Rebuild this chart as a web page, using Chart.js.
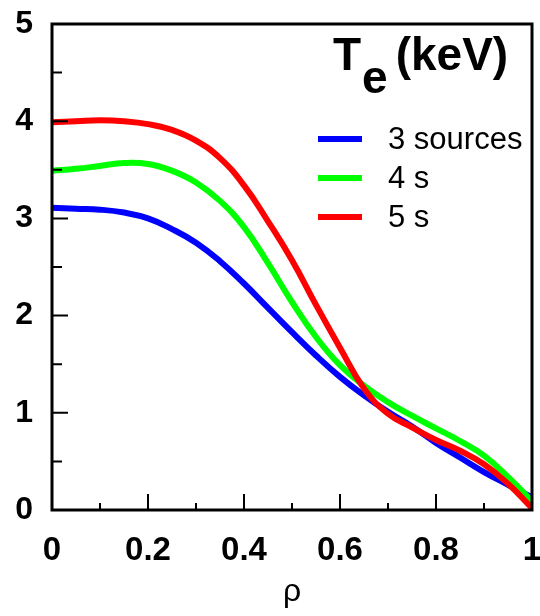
<!DOCTYPE html>
<html>
<head>
<meta charset="utf-8">
<script src="https://cdn.jsdelivr.net/npm/chart.js@4.4.1/dist/chart.umd.min.js"></script>
<style>
  html, body { margin: 0; padding: 0; background: #fff; }
</style>
</head>
<body>
<canvas id="chartTe" width="540" height="616"></canvas>
<script>
// normalised radius and electron temperature profiles (keV)
const rho = [0, 0.05, 0.1, 0.15, 0.2, 0.25, 0.3, 0.35, 0.4, 0.45, 0.5,
             0.55, 0.6, 0.65, 0.7, 0.75, 0.8, 0.85, 0.9, 0.95, 1.0];
const te3sources = [3.11, 3.10, 3.09, 3.06, 3.00, 2.89, 2.75, 2.56, 2.33, 2.08, 1.83,
                    1.59, 1.37, 1.18, 1.01, 0.86, 0.69, 0.54, 0.39, 0.26, 0.13];
const te4s = [3.49, 3.51, 3.54, 3.57, 3.56, 3.49, 3.37, 3.18, 2.91, 2.54, 2.14,
              1.78, 1.49, 1.28, 1.11, 0.97, 0.84, 0.71, 0.56, 0.34, 0.09];
const te5s = [3.99, 4.00, 4.01, 4.00, 3.97, 3.91, 3.80, 3.62, 3.34, 2.97, 2.57,
              2.11, 1.67, 1.25, 0.99, 0.85, 0.72, 0.61, 0.47, 0.27, 0.02];

const seriesLabels = ["3 sources", "4 s", "5 s"];
const seriesColors = ["#0000ff", "#00ff00", "#ff0000"];
const xTicks = [0, 0.2, 0.4, 0.6, 0.8, 1];
const yTicks = [0, 1, 2, 3, 4, 5];

const FONT = "'Liberation Sans', Arial, Helvetica, sans-serif";

function toPoints(values) {
    return values.map((v, i) => ({ x: rho[i], y: v }));
}

// frame plus inward major / minor tick marks on the left and bottom axes
const frameTicks = {
    id: "frameTicks",
    afterDatasetsDraw(chart) {
        const { ctx, chartArea: a, scales: { x, y } } = chart;
        ctx.save();
        ctx.strokeStyle = "#000";
        ctx.lineWidth = 2;
        ctx.beginPath();
        xTicks.forEach((v, i) => {
            const px = x.getPixelForValue(v);
            ctx.moveTo(px, a.bottom);
            ctx.lineTo(px, a.bottom - 16);
            if (i < xTicks.length - 1) {
                const mx = x.getPixelForValue((v + xTicks[i + 1]) / 2);
                ctx.moveTo(mx, a.bottom);
                ctx.lineTo(mx, a.bottom - 7);
            }
        });
        yTicks.forEach((v, i) => {
            const py = y.getPixelForValue(v);
            ctx.moveTo(a.left, py);
            ctx.lineTo(a.left + 16, py);
            if (i < yTicks.length - 1) {
                const my = y.getPixelForValue((v + yTicks[i + 1]) / 2);
                ctx.moveTo(a.left, my);
                ctx.lineTo(a.left + 10, my);
            }
        });
        ctx.stroke();
        ctx.lineWidth = 3;
        ctx.strokeRect(a.left, a.top, a.right - a.left, a.bottom - a.top);
        ctx.restore();
    }
};

// "Te (keV)" label and the legend inside the upper right corner
const labelLegend = {
    id: "labelLegend",
    afterDraw(chart) {
        const { ctx, chartArea: a } = chart;
        ctx.save();
        ctx.fillStyle = "#000";
        ctx.textAlign = "left";
        ctx.textBaseline = "alphabetic";
        ctx.font = "bold 46px " + FONT;
        const tx = a.right - 199;
        const ty = a.top + 46;
        ctx.fillText("T", tx, ty);
        const tw = ctx.measureText("T").width;
        ctx.fillText("e", tx + tw + 1, ty + 23);
        const ew = ctx.measureText("e").width;
        ctx.fillText("(keV)", tx + tw + ew + 9, ty);

        ctx.font = "31px " + FONT;
        ctx.textBaseline = "middle";
        chart.data.datasets.forEach((ds) => {
            const row = seriesLabels.indexOf(ds.label);
            const ly = a.top + 115 + row * 39;
            ctx.strokeStyle = ds.borderColor;
            ctx.lineWidth = 6;
            ctx.beginPath();
            ctx.moveTo(a.right - 214, ly);
            ctx.lineTo(a.right - 170, ly);
            ctx.stroke();
            ctx.fillStyle = "#000";
            ctx.fillText(ds.label, a.right - 144, ly + 1);
        });
        ctx.restore();
    }
};

const datasets = [te3sources, te4s, te5s].map((vals, i) => ({
    label: seriesLabels[i],
    data: toPoints(vals),
    borderColor: seriesColors[i],
    backgroundColor: seriesColors[i],
    borderWidth: 6,
    pointRadius: 0,
    fill: false,
    tension: 0.45,
    order: 3 - i,
}));

function noPad(s) {
    s.paddingLeft = 0;
    s.paddingRight = 0;
    s.paddingTop = 0;
    s.paddingBottom = 0;
}

new Chart(document.getElementById("chartTe"), {
    type: "line",
    data: { datasets: datasets },
    options: {
        responsive: false,
        animation: false,
        layout: { padding: { top: 24, right: 8, left: 0, bottom: 0 } },
        plugins: {
            legend: { display: false },
            tooltip: { enabled: false },
        },
        scales: {
            x: {
                type: "linear",
                min: 0,
                max: 1,
                afterBuildTicks: (s) => { s.ticks = xTicks.map((v) => ({ value: v })); },
                afterFit: (s) => { s.height = 106; noPad(s); },
                grid: { display: false, drawTicks: false },
                border: { display: false },
                ticks: {
                    padding: 21,
                    color: "#000",
                    autoSkip: false,
                    maxRotation: 0,
                    callback: (v) => String(v),
                    font: { family: FONT, size: 33, weight: "bold" },
                },
                title: {
                    display: true,
                    text: "ρ",
                    color: "#000",
                    font: { family: FONT, size: 32 },
                    padding: { top: 0, bottom: 5 },
                },
            },
            y: {
                min: 0,
                max: 5,
                afterBuildTicks: (s) => { s.ticks = yTicks.map((v) => ({ value: v })); },
                afterFit: (s) => { s.width = 52; noPad(s); },
                grid: { display: false, drawTicks: false },
                border: { display: false },
                ticks: {
                    padding: 19,
                    color: "#000",
                    autoSkip: false,
                    callback: (v) => String(v),
                    font: { family: FONT, size: 32, weight: "bold" },
                },
            },
        },
    },
    plugins: [frameTicks, labelLegend],
});
</script>
</body>
</html>
